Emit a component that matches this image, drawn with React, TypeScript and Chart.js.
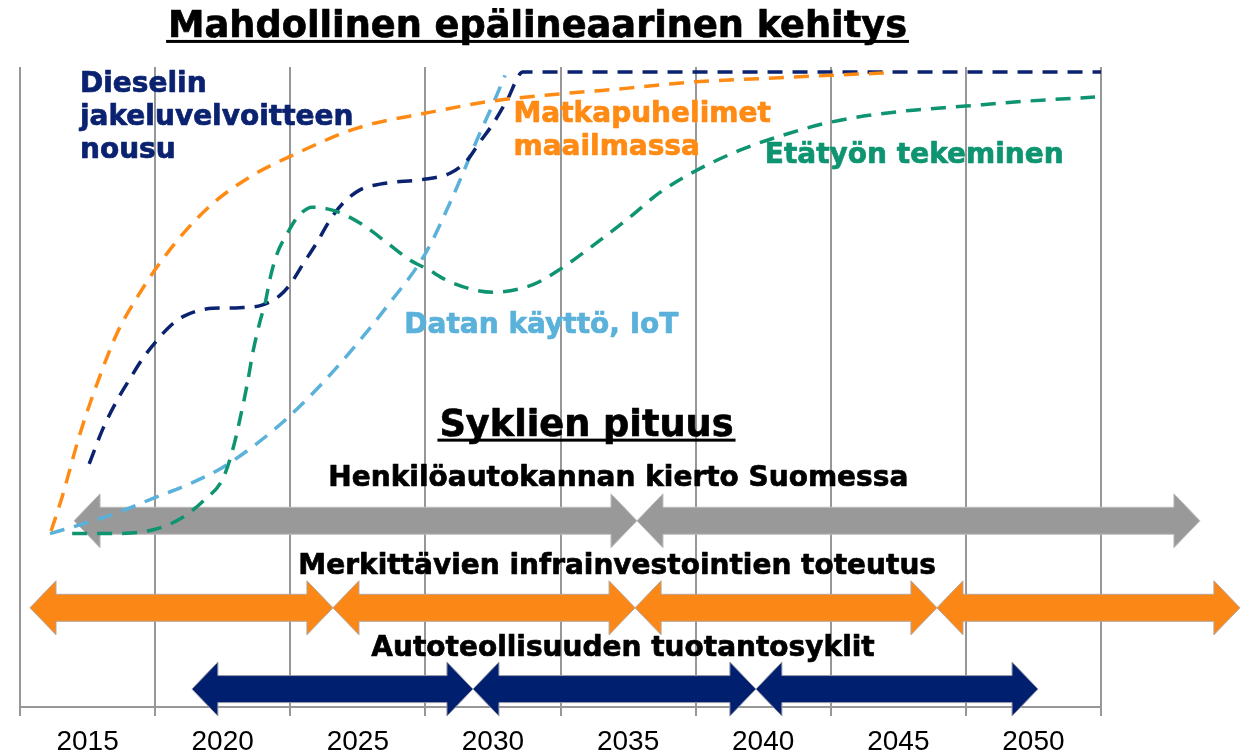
import React, { useEffect, useRef } from 'react';
import { Chart, registerables } from 'chart.js';

Chart.register(...registerables);

// ---- axis ----
const TICK_YEARS = [2015, 2020, 2025, 2030, 2035, 2040, 2045, 2050];
const GRID_YEARS = [2012.5, 2017.5, 2022.5, 2027.5, 2032.5, 2037.5, 2042.5, 2047.5, 2052.5];

// ---- curves (year, relative level 0..100) ----
const MOBILE_YEARS = [2013.65, 2014.05, 2014.72, 2015.35, 2016.09, 2016.76, 2017.53, 2018.42, 2019.64, 2021.12, 2022.53, 2025.01, 2027.52, 2030.0, 2032.52, 2035.0, 2037.51, 2039.99, 2042.51, 2044.69];
const MOBILE_VALUES = [27.5, 32.7, 42.7, 50.5, 58.4, 63.5, 68.5, 73.4, 78.7, 83.1, 86.1, 90.5, 92.8, 94.7, 95.8, 96.7, 97.7, 98.2, 98.7, 99.1];

const DIESEL_YEARS = [2015.06, 2015.57, 2016.09, 2016.57, 2017.05, 2017.57, 2018.05, 2018.53, 2019.16, 2019.64, 2020.64, 2021.45, 2022.12, 2022.49, 2022.97, 2023.49, 2023.97, 2024.45, 2025.08, 2025.82, 2027.52, 2028.41, 2029.04, 2029.52, 2030.0, 2030.52, 2031.11, 2052.5];
const DIESEL_VALUES = [38.0, 43.5, 47.9, 51.3, 54.5, 57.3, 59.5, 61.0, 62.0, 62.3, 62.4, 62.8, 64.3, 66.0, 69.2, 72.6, 76.1, 78.7, 80.8, 81.7, 82.5, 83.4, 85.4, 88.3, 91.1, 94.8, 99.2, 99.2];

const DATA_YEARS = [2013.61, 2014.98, 2016.2, 2017.42, 2018.68, 2019.9, 2021.12, 2022.38, 2023.6, 2024.82, 2026.08, 2027.52, 2028.52, 2029.52, 2030.0, 2030.45];
const DATA_VALUES = [27.1, 28.8, 30.5, 32.6, 34.7, 37.2, 40.7, 45.1, 50.2, 56.0, 62.6, 71.0, 79.8, 89.7, 94.2, 98.7];

const REMOTE_YEARS = [2014.43, 2015.94, 2017.43, 2018.43, 2019.28, 2020.02, 2020.39, 2020.65, 2020.91, 2021.13, 2021.39, 2021.57, 2021.76, 2022.02, 2022.39, 2022.76, 2023.31, 2024.09, 2025.09, 2026.09, 2026.94, 2027.54, 2028.43, 2030.0, 2031.48, 2032.52, 2033.7, 2035.0, 2036.18, 2037.51, 2039.14, 2040.62, 2042.51, 2044.95, 2047.5, 2049.87, 2052.28];
const REMOTE_VALUES = [27.1, 27.1, 27.7, 29.4, 32.2, 35.8, 40.5, 45.2, 50.5, 55.7, 60.4, 63.1, 67.1, 70.9, 74.0, 76.5, 78.1, 77.6, 75.6, 72.5, 69.8, 68.5, 66.4, 64.8, 66.0, 68.5, 72.1, 76.3, 80.4, 83.8, 87.0, 89.2, 91.4, 93.0, 93.9, 94.7, 95.3];

// ---- cycles (start year, end year) ----
const CAR_FLEET_CYCLES = [[2014.5, 2035.33], [2035.33, 2056.16]];
const INFRA_CYCLES = [[2012.87, 2024.08], [2024.08, 2035.26], [2035.26, 2046.43], [2046.43, 2057.64]];
const AUTO_CYCLES = [[2018.86, 2029.26], [2029.26, 2039.73], [2039.73, 2050.17]];
const CYCLE_ROWS = [29.1, 15.5, 2.8];

const NAVY = '#0A2270';
const ORANGE = '#FF8A14';
const GREEN = '#0E9470';
const LIGHTBLUE = '#5AB1DA';

const toPoints = (xs: number[], ys: number[]) => xs.map((x, i) => ({ x, y: ys[i] }));

type Label = { lines: string[]; year: number; value: number; color: string; size: number; align: 'left' | 'center'; underline?: boolean; lineGap?: number };

const TEXTS: Label[] = [
  { lines: ['Mahdollinen epälineaarinen kehitys'], year: 2031.65, value: 104.7, color: '#000', size: 36.7, align: 'center', underline: true },
  { lines: ['Dieselin', 'jakeluvelvoitteen', 'nousu'], year: 2014.72, value: 96.1, color: NAVY, size: 28, align: 'left', lineGap: 33 },
  { lines: ['Matkapuhelimet', 'maailmassa'], year: 2030.76, value: 91.4, color: ORANGE, size: 28, align: 'left', lineGap: 33 },
  { lines: ['Etätyön tekeminen'], year: 2040.06, value: 85.0, color: GREEN, size: 28, align: 'left' },
  { lines: ['Datan käyttö, IoT'], year: 2026.72, value: 58.5, color: LIGHTBLUE, size: 28, align: 'left' },
  { lines: ['Syklien pituus'], year: 2028.02, value: 42.4, color: '#000', size: 36.7, align: 'left', underline: true },
  { lines: ['Henkilöautokannan kierto Suomessa'], year: 2023.91, value: 34.6, color: '#000', size: 28, align: 'left' },
  { lines: ['Merkittävien infrainvestointien toteutus'], year: 2022.8, value: 20.8, color: '#000', size: 28, align: 'left' },
  { lines: ['Autoteollisuuden tuotantosyklit'], year: 2025.5, value: 8.0, color: '#000', size: 28, align: 'left' },
];

const ARROW_SETS = [
  { cycles: CAR_FLEET_CYCLES, row: CYCLE_ROWS[0], fill: '#999999', stroke: '#BDBDBD' },
  { cycles: INFRA_CYCLES, row: CYCLE_ROWS[1], fill: '#FA8716', stroke: '#B5A59A' },
  { cycles: AUTO_CYCLES, row: CYCLE_ROWS[2], fill: '#001F6E', stroke: '#9A9AA8' },
];

const arrowPlugin = {
  id: 'cycleArrows',
  beforeDatasetsDraw(chart: any) {
    const { ctx } = chart;
    const xs = chart.scales.x;
    const ys = chart.scales.y;
    const h = 13.5, H = 27, L = 26;
    ctx.save();
    ARROW_SETS.forEach((set) => {
      const y = ys.getPixelForValue(set.row);
      set.cycles.forEach(([a, b]) => {
        const x1 = xs.getPixelForValue(a);
        const x2 = xs.getPixelForValue(b);
        ctx.beginPath();
        ctx.moveTo(x1, y);
        ctx.lineTo(x1 + L, y - H);
        ctx.lineTo(x1 + L, y - h);
        ctx.lineTo(x2 - L, y - h);
        ctx.lineTo(x2 - L, y - H);
        ctx.lineTo(x2, y);
        ctx.lineTo(x2 - L, y + H);
        ctx.lineTo(x2 - L, y + h);
        ctx.lineTo(x1 + L, y + h);
        ctx.lineTo(x1 + L, y + H);
        ctx.closePath();
        ctx.fillStyle = set.fill;
        ctx.fill();
        ctx.lineWidth = 1;
        ctx.strokeStyle = set.stroke;
        ctx.stroke();
      });
    });
    ctx.restore();
  },
};

const textPlugin = {
  id: 'textLabels',
  afterDraw(chart: any) {
    const { ctx } = chart;
    const xs = chart.scales.x;
    const ys = chart.scales.y;
    ctx.save();
    TEXTS.forEach((t) => {
      ctx.font = `bold ${t.size}px "DejaVu Sans", Verdana, sans-serif`;
      ctx.fillStyle = t.color;
      ctx.strokeStyle = t.color;
      ctx.lineWidth = 0.7;
      ctx.lineJoin = 'round';
      ctx.textBaseline = 'alphabetic';
      ctx.textAlign = t.align;
      const x = xs.getPixelForValue(t.year);
      const y0 = ys.getPixelForValue(t.value);
      t.lines.forEach((line, i) => {
        const y = y0 + i * (t.lineGap || 0);
        ctx.fillText(line, x, y);
        ctx.strokeText(line, x, y);
        if (t.underline) {
          const w = ctx.measureText(line).width;
          const left = t.align === 'center' ? x - w / 2 : x;
          ctx.fillRect(left - 2, y + 3, w + 4, 3);
        }
      });
    });
    ctx.restore();
  },
};

export default function App() {
  const ref = useRef<HTMLCanvasElement>(null);
  useEffect(() => {
    if (!ref.current) return;
    const dash = [15, 10];
    const mk = (label: string, xs: number[], ys: number[], color: string) => ({
      label,
      data: toPoints(xs, ys),
      borderColor: color,
      backgroundColor: color,
      borderWidth: 3.5,
      borderDash: dash,
      pointRadius: 0,
      fill: false,
      cubicInterpolationMode: 'monotone' as const,
    });
    const chart = new Chart(ref.current, {
      type: 'line',
      data: {
        datasets: [
          mk('Matkapuhelimet maailmassa', MOBILE_YEARS, MOBILE_VALUES, ORANGE),
          mk('Etätyön tekeminen', REMOTE_YEARS, REMOTE_VALUES, GREEN),
          mk('Dieselin jakeluvelvoitteen nousu', DIESEL_YEARS, DIESEL_VALUES, NAVY),
          mk('Datan käyttö, IoT', DATA_YEARS, DATA_VALUES, LIGHTBLUE),
        ],
      },
      options: {
        animation: false,
        responsive: false,
        layout: { padding: { left: 12, right: 144, top: 59, bottom: 0 } },
        plugins: { legend: { display: false }, tooltip: { enabled: false }, title: { display: false } },
        scales: {
          x: {
            type: 'linear',
            min: 2012.5,
            max: 2052.5,
            afterBuildTicks: (axis: any) => {
              const all = [...GRID_YEARS, ...TICK_YEARS].sort((a, b) => a - b);
              axis.ticks = all.map((v) => ({ value: v }));
            },
            grid: {
              color: (c: any) => (c.tick && c.tick.value % 5 === 0 ? 'rgba(0,0,0,0)' : '#979797'),
              lineWidth: 2,
              tickLength: 9,
            },
            border: { color: '#979797', width: 2 },
            ticks: {
              autoSkip: false,
              maxRotation: 0,
              padding: 12,
              color: '#000000',
              font: { family: '"Liberation Sans", Arial, sans-serif', size: 28, lineHeight: 1 },
              callback: (v: any) => (Number(v) % 5 === 0 ? String(v) : ''),
            },
          },
          y: { type: 'linear', min: 0, max: 100, display: false },
        },
      },
      plugins: [arrowPlugin, textPlugin],
    });
    return () => chart.destroy();
  }, []);
  return (
    <div style={{ position: 'fixed', left: 8, top: 8, width: 1237, height: 760 }}>
      <canvas ref={ref} width={1237} height={760} style={{ display: 'block' }} />
    </div>
  );
}
